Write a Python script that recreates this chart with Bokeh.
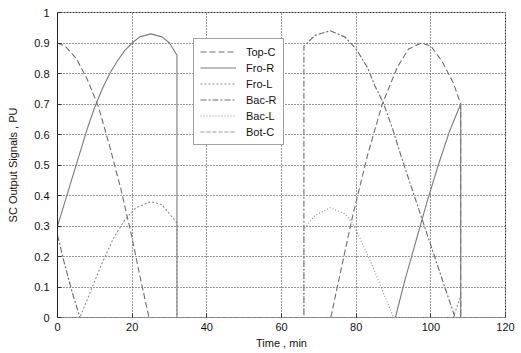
from bokeh.plotting import figure
from bokeh.models import Legend, LegendItem, FixedTicker
from bokeh.embed import file_html
from bokeh.resources import INLINE

# ---- data ----
x_ticks = [0, 20, 40, 60, 80, 100, 120]
y_ticks = [0, 0.1, 0.2, 0.3, 0.4, 0.5, 0.6, 0.7, 0.8, 0.9, 1.0]
y_tick_labels = ["0", "0.1", "0.2", "0.3", "0.4", "0.5", "0.6", "0.7", "0.8", "0.9", "1"]

top_c_t = [0, 2, 5, 8, 11, 14, 17, 20, 22, 24.5, 73.2, 76, 79, 83, 87, 91, 94, 97.5, 100, 103, 106, 108, 108, 120]
top_c_v = [0.90, 0.89, 0.85, 0.78, 0.69, 0.56, 0.42, 0.26, 0.14, 0.0, 0.0, 0.16, 0.33, 0.53, 0.70, 0.82, 0.88, 0.90, 0.89, 0.84, 0.77, 0.70, 0.0, 0.0]

fro_r_t = [0, 2, 4, 6, 8, 10, 12, 14, 16, 18, 20, 22, 25, 28, 30, 32, 32, 90.5, 93, 96, 99, 102, 105, 108, 108, 120]
fro_r_v = [0.30, 0.38, 0.46, 0.54, 0.62, 0.69, 0.75, 0.80, 0.84, 0.875, 0.90, 0.92, 0.93, 0.92, 0.90, 0.86, 0.0, 0.0, 0.12, 0.25, 0.38, 0.50, 0.61, 0.70, 0.0, 0.0]

fro_l_t = [0, 6, 9, 12, 15, 18, 21, 25, 28, 32, 32, 106, 108, 108, 120]
fro_l_v = [0.0, 0.0, 0.09, 0.18, 0.26, 0.32, 0.36, 0.38, 0.37, 0.31, 0.0, 0.0, 0.07, 0.0, 0.0]

bac_r_t = [0, 2, 4, 6, 66, 66, 69, 73, 77, 80, 83, 85, 87.4, 90, 92, 95, 98, 101, 104, 106.5, 120]
bac_r_v = [0.27, 0.17, 0.08, 0.0, 0.0, 0.89, 0.925, 0.94, 0.92, 0.88, 0.82, 0.76, 0.70, 0.61, 0.53, 0.42, 0.31, 0.20, 0.09, 0.0, 0.0]

bac_l_t = [0, 66, 66, 69, 73, 77, 79, 81, 84, 87, 90, 120]
bac_l_v = [0.0, 0.0, 0.29, 0.335, 0.36, 0.34, 0.31, 0.26, 0.18, 0.09, 0.0, 0.0]

bot_c_t = [0, 120]
bot_c_v = [0.0, 0.0]

FONT = "Liberation Sans"

p = figure(width=521, height=353, x_range=(0, 120), y_range=(0, 1),
           output_backend="svg", toolbar_location=None,
           min_border_left=57, min_border_right=16, min_border_top=12, min_border_bottom=36)

p.background_fill_color = "white"
p.border_fill_color = "white"
p.outline_line_color = "#333333"
p.outline_line_dash = "2 1"
p.outline_line_width = 1

p.xaxis.ticker = FixedTicker(ticks=x_ticks)
p.yaxis.ticker = FixedTicker(ticks=y_ticks)
p.yaxis.major_label_overrides = {t: s for t, s in zip(y_ticks, y_tick_labels)}
for ax in (p.xaxis, p.yaxis):
    ax.major_tick_in = 4
    ax.major_tick_out = 0
    ax.minor_tick_line_color = None
    ax.major_label_text_font = FONT
    ax.major_label_text_font_size = "11px"
    ax.major_label_text_color = "#111111"
    ax.axis_label_text_font = FONT
    ax.axis_label_text_font_size = "11px"
    ax.axis_label_text_font_style = "normal"
    ax.axis_label_text_color = "#111111"
    ax.major_tick_line_color = "#333333"
p.yaxis.axis_line_color = "#222222"
p.xaxis.axis_line_color = "#888888"
p.xaxis.axis_line_dash = "1 2"
p.yaxis.major_label_standoff = 8
p.xaxis.major_label_standoff = 5
p.yaxis.axis_label = "SC Output Signals , PU"
p.yaxis.axis_label_standoff = 12
p.xaxis.axis_label = "Time , min"
p.xaxis.axis_label_standoff = 3

p.grid.grid_line_color = "#333333"
p.grid.grid_line_dash = "1 2"
p.grid.grid_line_width = 1

r1 = p.line(top_c_t, top_c_v, line_color="#6e6e6e", line_width=1.1, line_dash="6 3")
r2 = p.line(fro_r_t, fro_r_v, line_color="#7a7a7a", line_width=1.1)
r3 = p.line(fro_l_t, fro_l_v, line_color="#8a8a8a", line_width=1.1, line_dash="2 2")
r4 = p.line(bac_r_t, bac_r_v, line_color="#6a6a6a", line_width=1.1, line_dash="6 2 2 2")
r5 = p.line(bac_l_t, bac_l_v, line_color="#8c8c8c", line_width=1.1, line_dash="1 2")
r6 = p.line(bot_c_t, bot_c_v, line_color="#9a9a9a", line_width=1.1, line_dash="4 2")

legend = Legend(items=[
    LegendItem(label="Top-C", renderers=[r1]),
    LegendItem(label="Fro-R", renderers=[r2]),
    LegendItem(label="Fro-L", renderers=[r3]),
    LegendItem(label="Bac-R", renderers=[r4]),
    LegendItem(label="Bac-L", renderers=[r5]),
    LegendItem(label="Bot-C", renderers=[r6]),
], location=(136, 172))
legend.label_text_font = FONT
legend.label_text_font_size = "11px"
legend.label_text_color = "#111111"
legend.label_height = 13
legend.glyph_height = 13
legend.glyph_width = 36
legend.label_standoff = 10
legend.padding = 6
legend.spacing = 3
legend.margin = 0
legend.border_line_color = "#444444"
legend.border_line_width = 1
legend.background_fill_color = "white"
legend.background_fill_alpha = 1.0
p.add_layout(legend)

open("out.html", "w").write(file_html(p, INLINE))
